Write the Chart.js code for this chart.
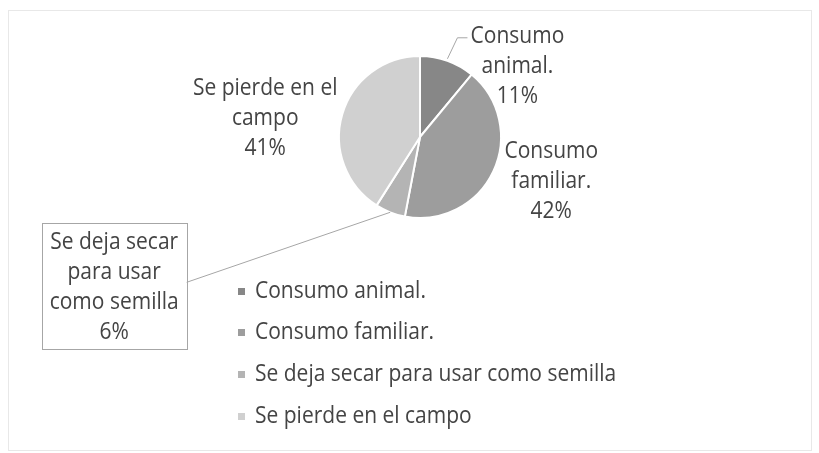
<!DOCTYPE html>
<html>
<head>
<meta charset="utf-8">
<script src="https://cdn.jsdelivr.net/npm/chart.js@4/dist/chart.umd.min.js"></script>
<style>
  html, body { margin: 0; padding: 0; background: #fff; }
  canvas { display: block; }
</style>
</head>
<body>
<canvas id="myChart" width="819" height="453"></canvas>
<script>
// data
const labels = ['Consumo animal.', 'Consumo familiar.', 'Se deja secar para usar como semilla', 'Se pierde en el campo'];
const values = [11, 42, 6, 41];
const colors = ['#878787', '#9d9d9d', '#b4b4b4', '#d0d0d0'];
// how each data label is broken into lines
const labelLines = [
    ['Consumo', 'animal.'],
    ['Consumo', 'familiar.'],
    ['Se deja secar', 'para usar', 'como semilla'],
    ['Se pierde en el', 'campo']
];
// label centre relative to the slice edge point
const labelShift = [[70, 5], [58, 10], [-276, 75], [-77, 4]];

const FONT = '21px "Open Sans"';
const STRETCH = 1.13;
const LINE_H = 30;
const TEXT_COLOR = '#444444';

function drawText(ctx, text, x, y, align) {
    ctx.save();
    ctx.translate(x, y);
    ctx.scale(1, STRETCH);
    ctx.textAlign = align;
    ctx.textBaseline = 'middle';
    ctx.fillText(text, 0, 0);
    ctx.restore();
}

const labelPlugin = {
    id: 'pieLabels',
    afterDraw(chart) {
        const ctx = chart.ctx;
        const arcs = chart.getDatasetMeta(0).data;
        ctx.save();
        ctx.font = FONT;
        ctx.fillStyle = TEXT_COLOR;

        // frame
        ctx.strokeStyle = '#e8e8e8';
        ctx.lineWidth = 1;
        ctx.strokeRect(8.5, 10.5, 803, 440);

        arcs.forEach(function (arc, i) {
            const p = arc.getProps(['x', 'y', 'startAngle', 'endAngle', 'outerRadius'], true);
            const mid = (p.startAngle + p.endAngle) / 2;
            const ex = p.x + Math.cos(mid) * p.outerRadius;
            const ey = p.y + Math.sin(mid) * p.outerRadius;
            const lines = labelLines[i].concat([values[i] + '%']);
            const cx = ex + labelShift[i][0];
            const cy = ey + labelShift[i][1];
            const top = cy - (lines.length - 1) * LINE_H / 2;

            ctx.strokeStyle = '#a6a6a6';
            ctx.lineWidth = 1;
            if (i === 0) {
                ctx.beginPath();
                ctx.moveTo(ex, ey - 2);
                ctx.lineTo(ex + 10, top + 2);
                ctx.lineTo(ex + 20, top + 2);
                ctx.stroke();
            }
            if (i === 2) {
                const bw = 145, bh = 126;
                const bx = cx - bw / 2, by = cy - bh / 2 - 1;
                ctx.strokeRect(Math.round(bx) + 0.5, Math.round(by) + 0.5, bw, bh);
                ctx.beginPath();
                ctx.moveTo(bx + bw, cy - 5);
                ctx.lineTo(ex, ey);
                ctx.stroke();
            }
            lines.forEach(function (t, k) {
                drawText(ctx, t, cx, top + k * LINE_H, 'center');
            });
        });

        // legend
        const legY = [291, 332, 374, 416];
        labels.forEach(function (lab, i) {
            ctx.fillStyle = colors[i];
            ctx.fillRect(238, legY[i] - 3, 7, 7);
            ctx.fillStyle = TEXT_COLOR;
            drawText(ctx, lab, 255, legY[i], 'left');
        });
        ctx.restore();
    }
};

const ctx = document.getElementById('myChart').getContext('2d');
const myChart = new Chart(ctx, {
    type: 'pie',
    data: {
        labels: labels,
        datasets: [{
            data: values,
            backgroundColor: colors,
            borderColor: '#ffffff',
            borderWidth: 2,
            hoverOffset: 0
        }]
    },
    options: {
        responsive: false,
        animation: false,
        layout: {
            padding: { left: 338, right: 317, top: 55, bottom: 234 }
        },
        plugins: {
            legend: { display: false },
            tooltip: { enabled: false }
        }
    },
    plugins: [labelPlugin]
});
</script>
</body>
</html>
